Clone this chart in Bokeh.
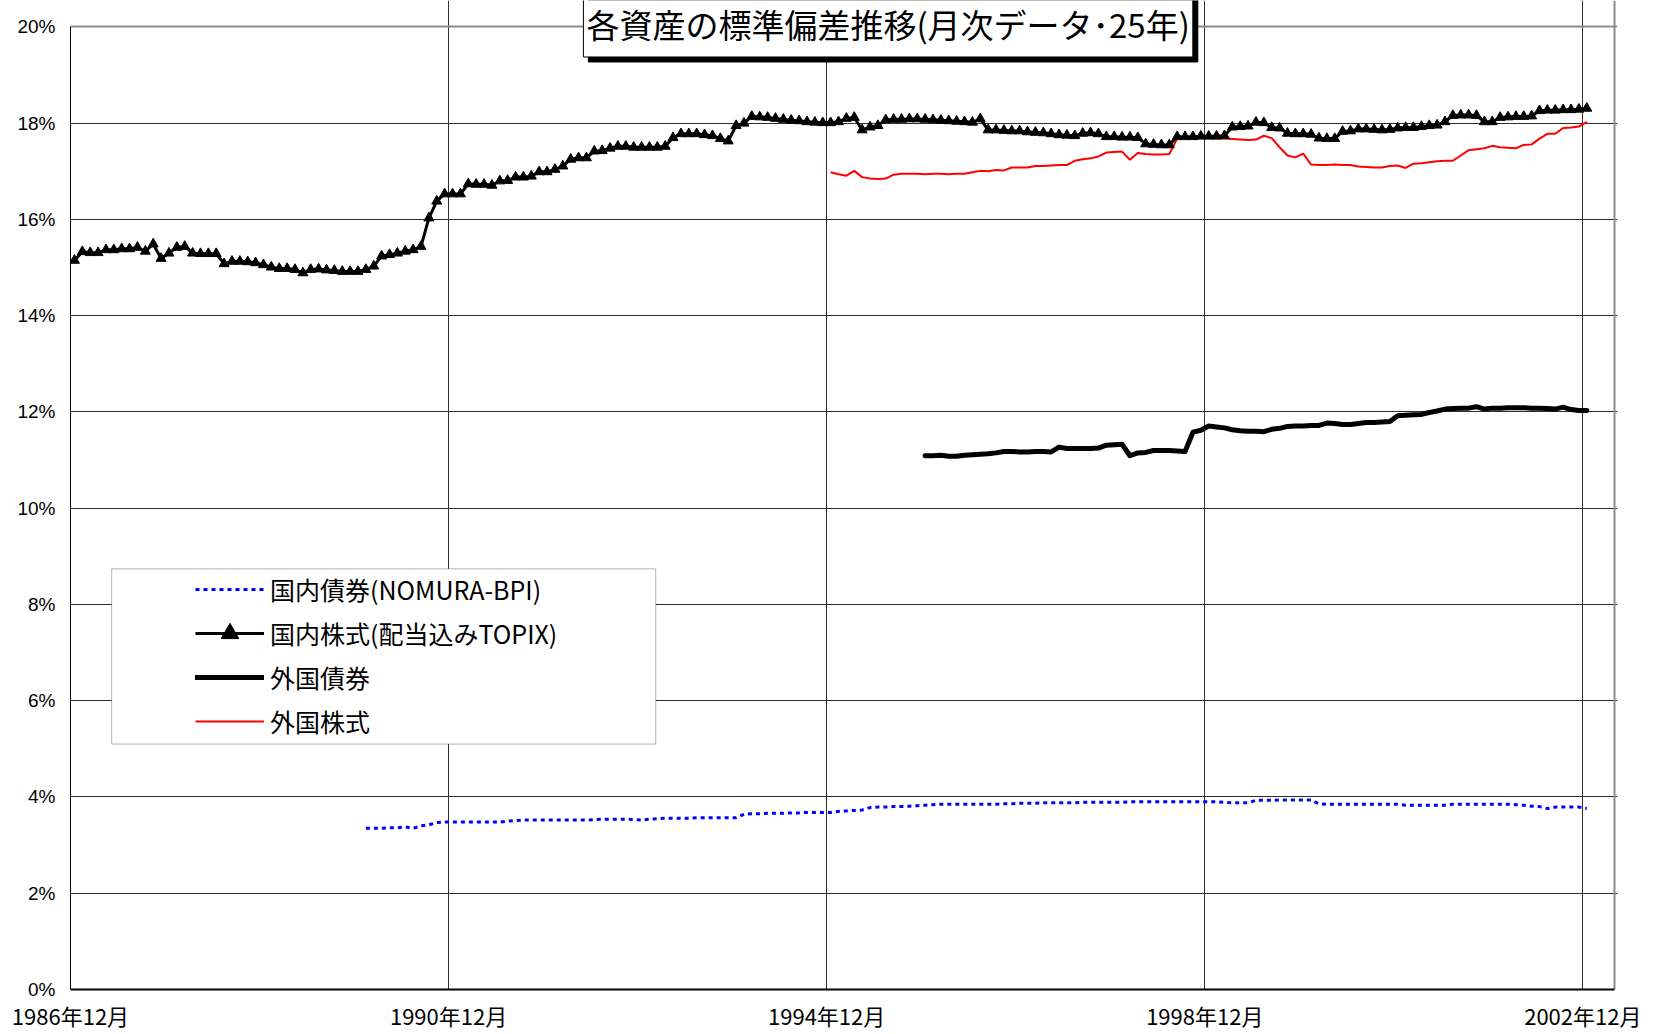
import numpy as np
from bokeh.plotting import figure
from bokeh.models import (Range1d, FixedTicker, PrintfTickFormatter, Legend,
                          LegendItem, Label, BoxAnnotation, Grid)
from bokeh.embed import file_html
from bokeh.resources import INLINE

# ---- chart text ----
TITLE = "各資産の標準偏差推移(月次データ･25年)"
SERIES_NAMES = ["国内債券(NOMURA-BPI)", "国内株式(配当込みTOPIX)", "外国債券", "外国株式"]

# ---- month axis (index 0 = 1986年12月, one category per month) ----
N_MONTHS = 196
TICK_MONTHS = [0, 48, 96, 144, 192]
TICK_LABELS = ["1986年12月", "1990年12月", "1994年12月", "1998年12月", "2002年12月"]
Y_TICKS = [0, 2, 4, 6, 8, 10, 12, 14, 16, 18, 20]

# ---- standard deviation (%), first month index of each series ----
DOM_BOND_START = 37
DOM_BOND = [
    3.35, 3.35, 3.35, 3.36, 3.36, 3.38, 3.35, 3.40, 3.42, 3.47,
    3.48, 3.48, 3.48, 3.48, 3.48, 3.48, 3.48, 3.48, 3.50, 3.51,
    3.52, 3.52, 3.52, 3.52, 3.52, 3.52, 3.52, 3.52, 3.52, 3.53,
    3.54, 3.54, 3.54, 3.54, 3.53, 3.52, 3.54, 3.55, 3.56, 3.56,
    3.56, 3.56, 3.57, 3.57, 3.57, 3.57, 3.57, 3.57, 3.64, 3.65,
    3.65, 3.66, 3.66, 3.66, 3.67, 3.67, 3.68, 3.68, 3.68, 3.68,
    3.70, 3.71, 3.72, 3.73, 3.78, 3.79, 3.79, 3.80, 3.80, 3.81,
    3.82, 3.83, 3.84, 3.85, 3.85, 3.85, 3.85, 3.85, 3.85, 3.85,
    3.85, 3.86, 3.86, 3.87, 3.87, 3.87, 3.88, 3.88, 3.88, 3.88,
    3.88, 3.89, 3.89, 3.89, 3.89, 3.89, 3.89, 3.90, 3.90, 3.90,
    3.90, 3.90, 3.90, 3.90, 3.90, 3.90, 3.90, 3.90, 3.90, 3.89,
    3.88, 3.88, 3.88, 3.93, 3.93, 3.93, 3.94, 3.94, 3.94, 3.94,
    3.94, 3.86, 3.85, 3.85, 3.85, 3.85, 3.85, 3.85, 3.85, 3.85,
    3.85, 3.85, 3.83, 3.83, 3.83, 3.83, 3.83, 3.83, 3.85, 3.85,
    3.85, 3.85, 3.85, 3.85, 3.85, 3.85, 3.84, 3.83, 3.81, 3.80,
    3.76, 3.79, 3.79, 3.79, 3.79, 3.76,
]

DOM_EQUITY_START = 0
DOM_EQUITY = [
    15.15, 15.33, 15.31, 15.31, 15.37, 15.37, 15.39, 15.39, 15.42, 15.34,
    15.49, 15.19, 15.30, 15.42, 15.44, 15.30, 15.29, 15.29, 15.29, 15.08,
    15.13, 15.13, 15.12, 15.10, 15.06, 15.01, 14.98, 14.98, 14.96, 14.89,
    14.96, 14.97, 14.95, 14.94, 14.92, 14.92, 14.92, 14.96, 15.03, 15.24,
    15.27, 15.30, 15.34, 15.37, 15.44, 16.03, 16.38, 16.53, 16.53, 16.53,
    16.74, 16.73, 16.73, 16.71, 16.80, 16.81, 16.88, 16.88, 16.90, 16.99,
    16.99, 17.04, 17.11, 17.25, 17.28, 17.28, 17.42, 17.43, 17.48, 17.52,
    17.52, 17.50, 17.50, 17.50, 17.50, 17.52, 17.70, 17.78, 17.78, 17.78,
    17.76, 17.74, 17.68, 17.63, 17.95, 18.00, 18.14, 18.13, 18.12, 18.10,
    18.08, 18.06, 18.05, 18.03, 18.02, 18.01, 18.01, 18.03, 18.10, 18.12,
    17.86, 17.92, 17.95, 18.07, 18.08, 18.08, 18.09, 18.09, 18.08, 18.07,
    18.06, 18.05, 18.04, 18.03, 18.02, 18.09, 17.86, 17.86, 17.85, 17.84,
    17.84, 17.82, 17.81, 17.80, 17.78, 17.76, 17.75, 17.74, 17.79, 17.80,
    17.78, 17.72, 17.72, 17.71, 17.71, 17.70, 17.57, 17.56, 17.55, 17.55,
    17.72, 17.72, 17.72, 17.73, 17.73, 17.73, 17.74, 17.92, 17.93, 17.94,
    18.02, 18.01, 17.91, 17.90, 17.79, 17.78, 17.78, 17.77, 17.69, 17.68,
    17.68, 17.83, 17.84, 17.88, 17.88, 17.87, 17.86, 17.87, 17.90, 17.91,
    17.91, 17.93, 17.95, 17.96, 18.03, 18.16, 18.17, 18.17, 18.16, 18.03,
    18.03, 18.12, 18.13, 18.14, 18.14, 18.15, 18.26, 18.27, 18.27, 18.28,
    18.28, 18.29, 18.31,
]

FOR_BOND_START = 108
FOR_BOND = [
    11.09, 11.09, 11.10, 11.08, 11.08, 11.10, 11.11, 11.12, 11.13, 11.15,
    11.18, 11.18, 11.17, 11.17, 11.18, 11.18, 11.17, 11.27, 11.24, 11.24,
    11.24, 11.24, 11.25, 11.31, 11.32, 11.33, 11.09, 11.15, 11.16, 11.20,
    11.20, 11.20, 11.19, 11.18, 11.58, 11.62, 11.71, 11.69, 11.67, 11.63,
    11.61, 11.60, 11.60, 11.59, 11.64, 11.66, 11.70, 11.71, 11.71, 11.72,
    11.72, 11.77, 11.76, 11.74, 11.74, 11.76, 11.78, 11.78, 11.79, 11.80,
    11.92, 11.93, 11.94, 11.95, 11.99, 12.02, 12.06, 12.07, 12.08, 12.08,
    12.11, 12.06, 12.08, 12.08, 12.09, 12.09, 12.09, 12.08, 12.08, 12.07,
    12.06, 12.10, 12.05, 12.03, 12.03,
]

FOR_EQUITY_START = 96
FOR_EQUITY = [
    16.98, 16.94, 16.91, 17.01, 16.88, 16.85, 16.84, 16.85, 16.93, 16.95,
    16.95, 16.95, 16.94, 16.95, 16.95, 16.94, 16.95, 16.95, 16.98, 17.01,
    17.00, 17.03, 17.02, 17.08, 17.08, 17.08, 17.11, 17.11, 17.12, 17.13,
    17.13, 17.22, 17.25, 17.27, 17.31, 17.39, 17.40, 17.41, 17.24, 17.38,
    17.36, 17.35, 17.35, 17.36, 17.68, 17.70, 17.70, 17.70, 17.70, 17.69,
    17.68, 17.67, 17.66, 17.65, 17.66, 17.74, 17.69, 17.50, 17.33, 17.29,
    17.37, 17.14, 17.13, 17.13, 17.14, 17.13, 17.13, 17.10, 17.09, 17.08,
    17.08, 17.11, 17.12, 17.07, 17.16, 17.17, 17.19, 17.21, 17.22, 17.22,
    17.33, 17.44, 17.46, 17.48, 17.53, 17.50, 17.49, 17.48, 17.55, 17.56,
    17.68, 17.78, 17.78, 17.90, 17.91, 17.93, 18.03,
]


def month_centres(start, values):
    # each monthly value sits in the middle of its category
    return np.arange(start, start + len(values)) + 0.5


JP_FONT = "Noto Sans CJK JP"
Y_MAX, X_MAX = 20, N_MONTHS

# the frame reaches the top of the canvas so the boxed title can overlap it;
# the visible plot area is bounded by the axes and the two border grids
p = figure(width=1654, height=1034, title=None,
           x_range=Range1d(0, X_MAX + 0.4), y_range=Range1d(0, 20.55),
           output_backend="svg", toolbar_location=None,
           min_border_left=70, min_border_right=37,
           min_border_top=0, min_border_bottom=45,
           background_fill_color="white", border_fill_color="white")
p.outline_line_color = None

# axes
p.xaxis.ticker = FixedTicker(ticks=TICK_MONTHS)
p.xaxis.major_label_overrides = dict(zip(TICK_MONTHS, TICK_LABELS))
p.xaxis.major_label_text_font = JP_FONT
p.xaxis.major_label_text_font_size = "22px"
p.xaxis.major_label_standoff = 9
p.xaxis.axis_line_width = 2
p.xaxis.bounds = (0, X_MAX)

p.yaxis.ticker = FixedTicker(ticks=Y_TICKS)
p.yaxis.formatter = PrintfTickFormatter(format="%d%%")
p.yaxis.major_label_text_font = "Liberation Sans"
p.yaxis.major_label_text_font_size = "19px"
p.yaxis.major_label_standoff = 15
p.yaxis.bounds = (0, Y_MAX)

for ax in (p.xaxis, p.yaxis):
    ax.axis_line_color = "black"
    ax.major_label_text_color = "black"
    ax.major_tick_line_color = None
    ax.minor_tick_line_color = None
    ax.major_tick_in = 0
    ax.major_tick_out = 0
    ax.minor_tick_in = 0
    ax.minor_tick_out = 0

# grid
p.xgrid.ticker = FixedTicker(ticks=TICK_MONTHS[1:])
p.ygrid.ticker = FixedTicker(ticks=Y_TICKS[1:-1])
p.xgrid.bounds = (0, Y_MAX)
p.ygrid.bounds = (0, X_MAX)
for g in (p.xgrid, p.ygrid):
    g.grid_line_color = "#2e2e2e"
    g.grid_line_width = 1

# grey plot-area border on the top and right
p.add_layout(Grid(dimension=0, ticker=FixedTicker(ticks=[X_MAX]), bounds=(0, Y_MAX),
                  grid_line_color="#8c8c8c", grid_line_width=2))
p.add_layout(Grid(dimension=1, ticker=FixedTicker(ticks=[Y_MAX]), bounds=(0, X_MAX),
                  grid_line_color="#8c8c8c", grid_line_width=2))

# series
r_db = p.line(month_centres(DOM_BOND_START, DOM_BOND), DOM_BOND,
              line_color="#0000FF", line_width=3, line_dash="4 4")
r_fe = p.line(month_centres(FOR_EQUITY_START, FOR_EQUITY), FOR_EQUITY,
              line_color="#FF0000", line_width=2)
r_fb = p.line(month_centres(FOR_BOND_START, FOR_BOND), FOR_BOND,
              line_color="black", line_width=5, line_join="round", line_cap="round")
x_eq = month_centres(DOM_EQUITY_START, DOM_EQUITY)
r_eq_line = p.line(x_eq, DOM_EQUITY, line_color="black", line_width=3)
r_eq_pts = p.scatter(x_eq, DOM_EQUITY, marker="triangle", size=10,
                     fill_color="black", line_color="black")

# legend frame and legend
p.add_layout(BoxAnnotation(left=5.23, right=74.3, bottom=5.10, top=8.74,
                           fill_color="white", fill_alpha=1.0,
                           line_color="black", line_width=1))
legend = Legend(items=[
    LegendItem(label=SERIES_NAMES[0], renderers=[r_db]),
    LegendItem(label=SERIES_NAMES[1], renderers=[r_eq_line, r_eq_pts]),
    LegendItem(label=SERIES_NAMES[2], renderers=[r_fb]),
    LegendItem(label=SERIES_NAMES[3], renderers=[r_fe]),
], location=(125, 246), padding=0, spacing=0, margin=0,
    glyph_width=69, glyph_height=44, label_height=44, label_standoff=6,
    label_text_font=JP_FONT, label_text_font_size="25px",
    label_text_color="black",
    border_line_color=None, background_fill_alpha=0)
p.add_layout(legend)

# boxed title with a drop shadow offset to the lower right
title_kw = dict(x=103.8, y=20.0, text=TITLE, text_align="center",
                text_baseline="middle", text_font=JP_FONT,
                text_font_size="33px", padding=(3, 9))
p.add_layout(Label(**title_kw, x_offset=5, y_offset=-2, text_color="black",
                   background_fill_color="black", border_line_color="black"))
p.add_layout(Label(**title_kw, x_offset=0, y_offset=3, text_color="black",
                   background_fill_color="white", border_line_color="black",
                   border_line_width=1))

open("out.html", "w").write(file_html(p, INLINE))
